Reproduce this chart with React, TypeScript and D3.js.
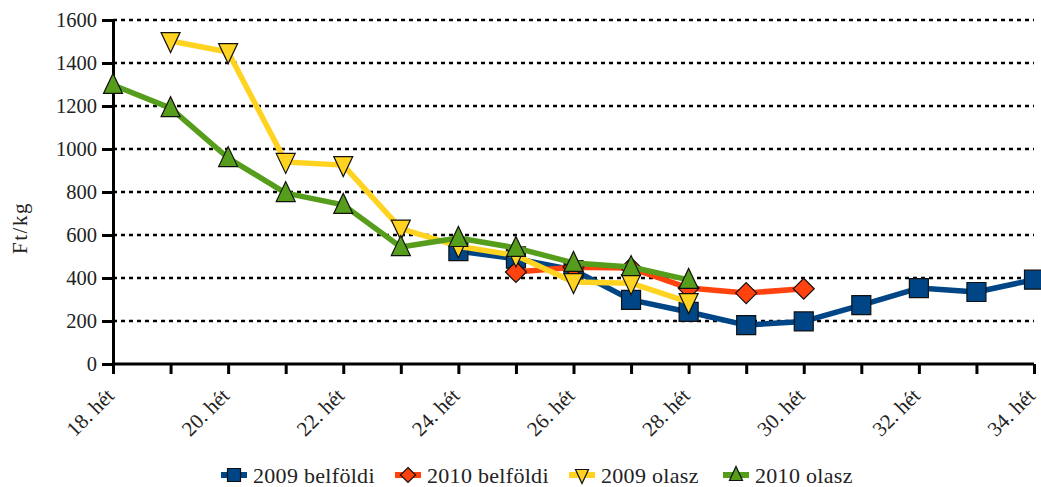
import React, { useRef, useEffect } from "react";
import * as d3 from "d3";

const weeks = ["18. hét","19. hét","20. hét","21. hét","22. hét","23. hét","24. hét","25. hét","26. hét","27. hét","28. hét","29. hét","30. hét","31. hét","32. hét","33. hét","34. hét"];
const belfoldi2009 = [null,null,null,null,null,null,525,490,437,298,242,181,198,274,353,335,392];
const belfoldi2010 = [null,null,null,null,null,null,null,428,450,446,353,330,350,null,null,null,null];
const olasz2009 = [null,1502,1451,940,925,630,548,505,381,376,288,null,null,null,null,null,null];
const olasz2010 = [1298,1190,958,795,740,544,586,540,470,451,391,null,null,null,null,null,null];
const yTicks = [0,200,400,600,800,1000,1200,1400,1600];

const series = [
  { name: "2009 belföldi", values: belfoldi2009, color: "#004586", shape: "square" },
  { name: "2010 belföldi", values: belfoldi2010, color: "#ff420e", shape: "diamond" },
  { name: "2009 olasz", values: olasz2009, color: "#ffd320", shape: "down" },
  { name: "2010 olasz", values: olasz2010, color: "#579d1c", shape: "up" },
];

const font = "'Liberation Serif', 'DejaVu Serif', serif";

function markerPath(shape: string, s: number) {
  const h = s / 2;
  if (shape === "square") return `M${-h},${-h}H${h}V${h}H${-h}Z`;
  if (shape === "diamond") return `M0,${-h - 1}L${h + 1},0L0,${h + 1}L${-h - 1},0Z`;
  if (shape === "down") return `M${-h},${-h + 1}H${h}L0,${h + 2}Z`;
  return `M${-h},${h - 1}H${h}L0,${-h - 2}Z`;
}

function App() {
  const svgRef = useRef<SVGSVGElement>(null);

  useEffect(() => {
    const w = 1041, h = 487;
    const left = 113, right = 1034, top = 20, bottom = 364;
    const svg = d3.select(svgRef.current).attr("width", w).attr("height", h);
    svg.selectAll("*").remove();

    const x = d3.scalePoint().domain(weeks).range([left, right]);
    const y = d3.scaleLinear().domain([0, 1600]).range([bottom, top]);

    // grid
    svg.append("g").selectAll("line").data(yTicks.filter(d => d > 0)).join("line")
      .attr("x1", left).attr("x2", right)
      .attr("y1", d => y(d)).attr("y2", d => y(d))
      .attr("stroke", "#000").attr("stroke-width", 2.5).attr("stroke-dasharray", "4,4");

    const yAxis = d3.axisLeft(y).tickValues(yTicks).tickSize(11).tickPadding(5).tickFormat(d3.format("d"));
    const gy = svg.append("g").attr("transform", `translate(${left},0)`).call(yAxis);
    gy.select(".domain").style("stroke", "#000").style("stroke-width", "3px");
    gy.selectAll(".tick line").style("stroke", "#000").style("stroke-width", "3px");
    gy.selectAll("text").attr("font-family", font).attr("font-size", 20.5).attr("fill", "#222");

    const xAxis = d3.axisBottom(x).tickSize(10).tickFormat((d, i) => (i % 2 === 0 ? d : ""));
    const gx = svg.append("g").attr("transform", `translate(0,${bottom})`).call(xAxis);
    gx.select(".domain").style("stroke", "#000").style("stroke-width", "3px").attr("d", `M${left},0H${right}`);
    gx.selectAll(".tick line").style("stroke", "#000").style("stroke-width", "3px");
    gx.selectAll("text")
      .attr("font-family", font).attr("font-size", 21).attr("fill", "#222")
      .attr("text-anchor", "end").attr("x", 0).attr("y", 0).attr("dy", 0)
      .attr("transform", "translate(2,33) rotate(-45)");

    svg.append("text")
      .attr("transform", `translate(27,228) rotate(-90)`)
      .attr("text-anchor", "middle").attr("font-family", font).attr("font-size", 21)
      .attr("fill", "#222").attr("letter-spacing", 1.5).text("Ft/kg");

    const line = d3.line<number | null>()
      .defined(d => d != null)
      .x((d, i) => x(weeks[i])!)
      .y(d => y(d as number));

    series.forEach(s => {
      svg.append("path").datum(s.values).attr("fill", "none")
        .attr("stroke", s.color).attr("stroke-width", 5.5).attr("stroke-linejoin", "round")
        .attr("d", line);
      svg.append("g").selectAll("path")
        .data(s.values.map((v, i) => ({ v, i })).filter(d => d.v != null)).join("path")
        .attr("transform", d => `translate(${x(weeks[d.i])},${y(d.v as number)})`)
        .attr("d", markerPath(s.shape, 19))
        .attr("fill", s.color).attr("stroke", "#111").attr("stroke-width", 1.2);
    });

    // legend
    const legX = [234, 408, 582, 736];
    const lg = svg.append("g").attr("transform", "translate(0,475)");
    series.forEach((s, i) => {
      const g = lg.append("g").attr("transform", `translate(${legX[i]},0)`);
      g.append("line").attr("x1", -13).attr("x2", 13).attr("stroke", s.color).attr("stroke-width", 6);
      g.append("path").attr("d", markerPath(s.shape, 13)).attr("fill", s.color)
        .attr("stroke", "#111").attr("stroke-width", 1.2);
      g.append("text").attr("x", 19).attr("y", 8).attr("font-family", font)
        .attr("font-size", 22).attr("letter-spacing", 0.3).attr("fill", "#222").text(s.name);
    });
  }, []);

  return (
    <svg ref={svgRef} style={{ position: "absolute", left: 0, top: 0, display: "block" }}></svg>
  );
}

export default App;
